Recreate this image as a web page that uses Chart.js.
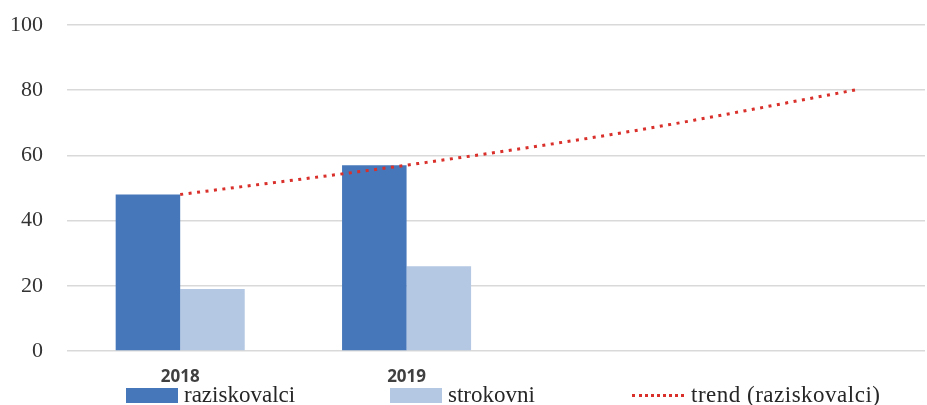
<!DOCTYPE html>
<html>
<head>
<meta charset="utf-8">
<script src="https://cdn.jsdelivr.net/npm/chart.js@4/dist/chart.umd.min.js"></script>
<style>
  html, body { margin: 0; padding: 0; background: #fff; }
  #wrap { position: relative; width: 927px; height: 405px; }
  #legend { position: absolute; left: 126px; top: 384px; height: 22px; display: flex; align-items: center;
            font-family: "Liberation Serif", serif; font-size: 23px; color: #262626; }
  .item { display: flex; align-items: center; white-space: nowrap; }
  .swatch { width: 52px; height: 15px; margin-right: 6px; }
  .dots { width: 52px; height: 0; border-top: 3px dotted #d9302b; margin-right: 7px; }
  #legend .trend-text { letter-spacing: 0.5px; }
</style>
</head>
<body>
<div id="wrap">
  <canvas id="chart" width="927" height="405"></canvas>
  <div id="legend"></div>
</div>
<script>
// --- Dados ---
const years = ['2018', '2019'];
const raziskovalci = [48, 57];
const strokovni = [19, 26];
const trendX = [1, 2, 3, 4];
const trendVals = [48, 57, 67.5, 80.3];
const yTicks = [0, 20, 40, 60, 80, 100];

const el = id => document.getElementById(id);

const darkBlue = '#4677ba';
const lightBlue = '#b4c7e3';
const trendRed = '#d9302b';

const datasets = [
  {
    type: 'line',
    label: 'trend (raziskovalci)',
    data: trendX.map((x, i) => ({ x, y: trendVals[i] })),
    borderColor: trendRed,
    borderWidth: 3,
    borderDash: [3, 5.5],
    pointRadius: 0,
    cubicInterpolationMode: 'monotone',
    order: 0
  },
  {
    label: 'raziskovalci',
    data: years.map((y, i) => ({ x: i + 1, y: raziskovalci[i] })),
    backgroundColor: darkBlue,
    order: 1
  },
  {
    label: 'strokovni',
    data: years.map((y, i) => ({ x: i + 1, y: strokovni[i] })),
    backgroundColor: lightBlue,
    order: 1
  }
];

const chart = new Chart(el('chart'), {
  type: 'bar',
  data: { datasets },
  options: {
    responsive: false,
    animation: false,
    layout: { padding: { top: 25, right: 2, left: 0, bottom: 0 } },
    datasets: { bar: { categoryPercentage: 0.57, barPercentage: 1 } },
    plugins: { legend: { display: false }, tooltip: { enabled: false } },
    scales: {
      x: {
        type: 'linear',
        offset: false,
        min: 0.5,
        max: 4.29,
        grid: { display: false },
        border: { display: false },
        afterBuildTicks: scale => { scale.ticks = years.map((y, i) => ({ value: i + 1 })); },
        afterFit: scale => { scale.height = 54; },
        ticks: {
          padding: 8,
          autoSkip: false,
          maxRotation: 0,
          color: '#404040',
          font: { family: 'Open Sans', size: 17, weight: '700' },
          callback: v => years[v - 1] ?? ''
        }
      },
      y: {
        min: 0,
        max: 100,
        grid: { color: '#d9d9d9', lineWidth: 1.5, drawTicks: false },
        border: { display: false },
        afterBuildTicks: scale => { scale.ticks = yTicks.map(value => ({ value })); },
        afterFit: scale => {
          scale.width = 67;
          scale.paddingTop = 0;
          scale.paddingBottom = 0;
        },
        ticks: {
          padding: 24,
          color: '#333',
          font: { family: 'Liberation Serif', size: 22 }
        }
      }
    }
  }
});

// --- Legenda ---
const legendWidths = [264, 242, null];
const legendOrder = [1, 2, 0];
legendOrder.forEach((dsIndex, i) => {
  const ds = datasets[dsIndex];
  const item = document.createElement('div');
  item.className = 'item';
  if (legendWidths[i]) item.style.width = legendWidths[i] + 'px';
  const mark = document.createElement('span');
  const label = document.createElement('span');
  if (ds.type === 'line') {
    mark.className = 'dots';
    label.className = 'trend-text';
  } else {
    mark.className = 'swatch';
    mark.style.background = ds.backgroundColor;
  }
  label.textContent = ds.label;
  item.appendChild(mark);
  item.appendChild(label);
  el('legend').appendChild(item);
});
</script>
</body>
</html>
